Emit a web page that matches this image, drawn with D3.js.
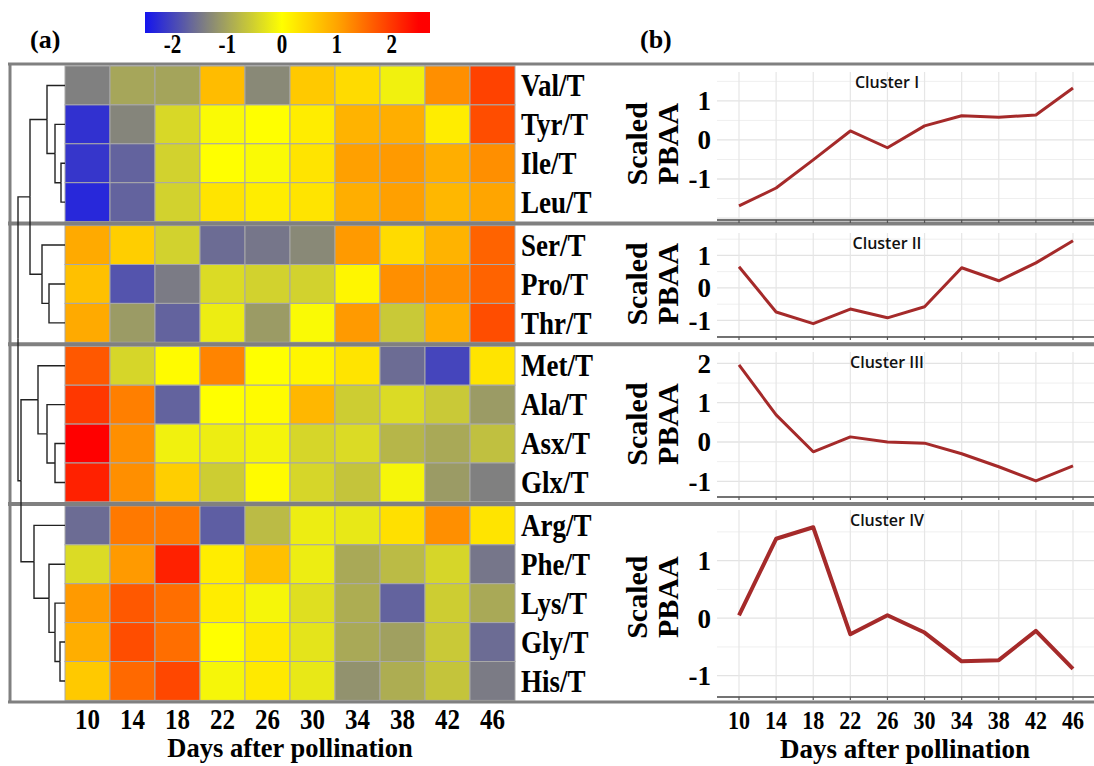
<!DOCTYPE html>
<html><head><meta charset="utf-8">
<script src="https://cdn.jsdelivr.net/npm/d3@7"></script>
<style>body{margin:0;background:#fff}</style>
</head><body>
<svg id="c" width="1094" height="766"></svg>
<script>
// ---------------- DATA ----------------
const days = [10,14,18,22,26,30,34,38,42,46];
const aminoAcids = ["Val/T","Tyr/T","Ile/T","Leu/T","Ser/T","Pro/T","Thr/T","Met/T","Ala/T","Asx/T","Glx/T","Arg/T","Phe/T","Lys/T","Gly/T","His/T"];
const clusterOf = [0,0,0,0,1,1,1,2,2,2,2,3,3,3,3,3];
const clusterNames = ["Cluster I","Cluster II","Cluster III","Cluster IV"];
const heatValues = [
  [-1.40,-0.98,-1.00, 0.75,-1.30, 0.60, 0.40,-0.15, 1.20, 1.90],
  [-2.20,-1.35,-0.43,-0.05, 0.00, 0.20, 0.85, 0.90, 0.20, 1.80],
  [-2.15,-1.70,-0.50, 0.00,-0.05, 0.30, 1.05, 1.10, 0.90, 1.20],
  [-2.30,-1.70,-0.50, 0.30, 0.20, 0.30, 0.90, 1.05, 0.80, 1.00],
  [ 0.95, 0.55,-0.50,-1.60,-1.50,-1.30, 1.10, 0.40, 0.85, 1.60],
  [ 0.70,-1.85,-1.45,-0.40,-0.50,-0.50, 0.10, 1.20, 1.20, 1.60],
  [ 0.95,-1.10,-1.70,-0.20,-1.10,-0.05, 1.10,-0.60, 0.90, 1.80],
  [ 1.70,-0.45, 0.05, 1.30, 0.00, 0.10, 0.30,-1.60,-2.00, 0.30],
  [ 2.00, 1.35,-1.70, 0.00, 0.05, 0.80,-0.55,-0.40,-0.60,-1.10],
  [ 2.50, 1.20,-0.15,-0.20,-0.12,-0.45,-0.40,-0.80,-0.95,-0.70],
  [ 2.20, 1.20, 0.55,-0.55, 0.05,-0.45,-0.65,-0.10,-1.10,-1.40],
  [-1.60, 1.40, 1.40,-1.75,-0.75,-0.20,-0.25, 0.35, 1.20, 0.30],
  [-0.40, 1.10, 2.20, 0.20, 0.70,-0.20,-0.95,-0.75,-0.45,-1.50],
  [ 1.10, 1.70, 1.50, 0.20,-0.10,-0.35,-0.90,-1.70,-0.55,-0.95],
  [ 0.90, 1.80, 1.50, 0.00, 0.25,-0.30,-0.95,-1.05,-0.60,-1.60],
  [ 0.60, 1.55, 1.85,-0.10, 0.25,-0.25,-1.20,-0.90,-0.65,-1.45]
];
const colorStops = [-2.5,-1.4,0,1,2.5];
const colorRange = ["#1414ee","#808080","#ffff00","#ffa500","#ff0000"];
const colorTicks = [-2,-1,0,1,2];
const colorbarDomain = [-2.5,2.7];
// dendrogram: merge heights
const dendrogram = {h:47, children:[
  {h:35, children:[
    {h:18, children:[{leaf:"Val/T"},{h:10, children:[{leaf:"Tyr/T"},{h:4, children:[{leaf:"Ile/T"},{leaf:"Leu/T"}]}]}]},
    {h:23, children:[{leaf:"Ser/T"},{h:16, children:[{leaf:"Pro/T"},{leaf:"Thr/T"}]}]}
  ]},
  {h:44, children:[
    {h:27, children:[{leaf:"Met/T"},{h:18, children:[{leaf:"Ala/T"},{h:10, children:[{leaf:"Asx/T"},{leaf:"Glx/T"}]}]}]},
    {h:31, children:[{leaf:"Arg/T"},{h:16, children:[{leaf:"Phe/T"},{h:10, children:[{leaf:"Lys/T"},{h:5, children:[{leaf:"Gly/T"},{leaf:"His/T"}]}]}]}]}
  ]}
]};
const clusterMeans = [
  [-1.69,-1.23,-0.51, 0.23,-0.20, 0.36, 0.62, 0.58, 0.64, 1.33],
  [ 0.65,-0.74,-1.10,-0.65,-0.92,-0.58, 0.62, 0.22, 0.77, 1.45],
  [ 1.96, 0.69,-0.25, 0.13, 0.00,-0.03,-0.30,-0.63,-0.99,-0.61],
  [ 0.05, 1.38, 1.58,-0.28, 0.05,-0.25,-0.75,-0.73,-0.22,-0.88]
];
const yDomains = [[-2.05,1.74],[-1.51,1.69],[-1.40,2.29],[-1.37,1.88]];
const yTicks = [[-1,0,1],[-1,0,1],[-1,0,1,2],[-1,0,1]];

// ---------------- LAYOUT ----------------
const svg = d3.select("#c");
const SERIF = "'Liberation Serif','Times New Roman',serif";
const gray = "#808080";
function stxt(x, y, str, size, sy, anchor, extra) {
  const t = svg.append("text")
    .attr("transform", `translate(${x},${y}) scale(1,${sy})`)
    .attr("text-anchor", anchor || "start")
    .style("font-family", SERIF).style("font-weight", "bold")
    .style("font-size", size + "px").attr("fill", "#000").text(str);
  if (extra) extra(t);
  return t;
}

const heatLeft = 65, heatTop = 66, rowH = 38.9, gap = 4;
const xHeat = d3.scaleBand().domain(days).range([heatLeft, 515]);
const yBand = d3.scaleBand().domain(aminoAcids).range([0, rowH*aminoAcids.length]);
const rowTop = name => heatTop + yBand(name) + clusterOf[aminoAcids.indexOf(name)]*gap;
const color = d3.scaleLinear().domain(colorStops).range(colorRange).clamp(true);

// heatmap cells
aminoAcids.forEach((aa, i) => {
  svg.append("g").selectAll("rect").data(heatValues[i]).join("rect")
    .attr("x", (d, j) => xHeat(days[j]))
    .attr("y", rowTop(aa))
    .attr("width", xHeat.bandwidth())
    .attr("height", yBand.bandwidth())
    .attr("fill", d => color(d))
    .attr("stroke", "#a8a8a8").attr("stroke-width", 1);
  stxt(521, rowTop(aa) + rowH/2, aa, 27, 1.2, "start", t => t.attr("dy", "0.33em"));
});

// cluster boxes
const boxes = clusterNames.map((c, k) => {
  const rows = aminoAcids.filter((a, i) => clusterOf[i] === k);
  return {top: rowTop(rows[0]), bottom: rowTop(rows[rows.length-1]) + yBand.bandwidth()};
});
for (let k = 1; k < boxes.length; k++) {
  const y = (boxes[k-1].bottom + boxes[k].top) / 2;
  svg.append("line").attr("x1", 8).attr("x2", 1094).attr("y1", y).attr("y2", y)
    .attr("stroke", gray).attr("stroke-width", 4);
}
svg.append("line").attr("x1", 8).attr("x2", 1094).attr("y1", 64).attr("y2", 64).attr("stroke", gray).attr("stroke-width", 3);
svg.append("line").attr("x1", 8).attr("x2", 1094).attr("y1", 702).attr("y2", 702).attr("stroke", gray).attr("stroke-width", 3);
svg.append("line").attr("x1", 10).attr("x2", 10).attr("y1", 63).attr("y2", 703).attr("stroke", gray).attr("stroke-width", 3);

// dendrogram
const root = d3.hierarchy(dendrogram);
const xDen = d3.scaleLinear().domain([0, 47]).range([heatLeft, 18]);
root.eachAfter(n => {
  if (!n.children) { n.hh = 0; n.yy = rowTop(n.data.leaf) + rowH/2; }
  else { n.hh = n.data.h; n.yy = d3.mean(n.children, c => c.yy); }
});
svg.append("g").selectAll("path").data(root.links()).join("path")
  .attr("d", l => `M${xDen(l.target.hh)},${l.target.yy}H${xDen(l.source.hh)}V${l.source.yy}`)
  .attr("fill", "none").attr("stroke", "#222").attr("stroke-width", 1.4);

// heatmap x labels
days.forEach(d => stxt(xHeat(d) + xHeat.bandwidth()/2, 729, String(d), 25, 1.15, "middle"));
stxt(290, 757, "Days after pollination", 26.5, 1.05, "middle");

// colorbar
const cbX = d3.scaleLinear().domain(colorbarDomain).range([145, 430]);
const grad = svg.append("defs").append("linearGradient").attr("id", "cbg")
  .attr("x1", "0%").attr("x2", "100%");
d3.range(0, 1.0001, 0.02).forEach(t => {
  const v = colorbarDomain[0] + t*(colorbarDomain[1]-colorbarDomain[0]);
  grad.append("stop").attr("offset", (t*100) + "%").attr("stop-color", color(v));
});
svg.append("rect").attr("x", cbX(colorbarDomain[0])).attr("y", 12)
  .attr("width", cbX(colorbarDomain[1]) - cbX(colorbarDomain[0])).attr("height", 21)
  .attr("fill", "url(#cbg)");
colorTicks.forEach(v => stxt(cbX(v), 53, String(v), 21, 1.25, "middle"));

stxt(30, 48, "(a)", 26, 1.0, "start");
stxt(640, 48, "(b)", 26, 1.0, "start");

// ---------------- PANEL (b) ----------------
const xLine = d3.scalePoint().domain(days).range([739, 1073]);
const plotTops = [72, 233, 352, 510], plotBottoms = [220, 337, 497, 697];
const plotLeft = 717, plotRight = 1094;
clusterMeans.forEach((vals, k) => {
  const y = d3.scaleLinear().domain(yDomains[k]).range([plotBottoms[k], plotTops[k]]);
  const g = svg.append("g");
  const lo = Math.ceil(yDomains[k][0]*2)/2, hi = Math.floor(yDomains[k][1]*2)/2;
  const gridVals = d3.range(lo, hi + 0.001, 0.5);
  g.selectAll(".hg").data(gridVals).join("line")
    .attr("x1", plotLeft).attr("x2", plotRight)
    .attr("y1", d => y(d)).attr("y2", d => y(d))
    .attr("stroke", d => Number.isInteger(d) ? "#e3e3e3" : "#efefef")
    .attr("stroke-width", d => Number.isInteger(d) ? 1.3 : 1);
  g.selectAll(".vg").data(days).join("line")
    .attr("x1", d => xLine(d)).attr("x2", d => xLine(d))
    .attr("y1", plotTops[k]).attr("y2", plotBottoms[k])
    .attr("stroke", "#e6e6e6").attr("stroke-width", 1.2);
  g.append("line").attr("x1", plotLeft).attr("x2", plotRight)
    .attr("y1", plotBottoms[k]).attr("y2", plotBottoms[k])
    .attr("stroke", "#444").attr("stroke-width", 1.3);
  g.selectAll(".tk").data(days).join("line")
    .attr("x1", d => xLine(d)).attr("x2", d => xLine(d))
    .attr("y1", plotBottoms[k]).attr("y2", plotBottoms[k] + 3)
    .attr("stroke", "#555").attr("stroke-width", 1.2);
  g.append("path").datum(vals)
    .attr("d", d3.line().x((v, i) => xLine(days[i])).y(v => y(v)))
    .attr("fill", "none").attr("stroke", "#a52a2a")
    .attr("stroke-width", k === 3 ? 4 : 3).attr("stroke-linejoin", "round");
  yTicks[k].forEach(v => stxt(711, y(v), String(v), 27, 1.05, "end", t => t.attr("dy", "0.33em")));
  svg.append("text").attr("x", 887).attr("y", plotTops[k] + 10).attr("dy", "0.35em")
    .attr("text-anchor", "middle")
    .style("font-family", "'Open Sans',sans-serif").style("font-weight", "600")
    .style("font-size", "16px").attr("fill", "#111").text(clusterNames[k]);
  const cy = (boxes[k].top + boxes[k].bottom) / 2 - (k === 3 ? 6 : 0);
  svg.append("text").attr("transform", `translate(647,${cy}) rotate(-90)`)
    .attr("text-anchor", "middle").style("font-family", SERIF).style("font-weight", "bold")
    .style("font-size", "30px").text("Scaled");
  svg.append("text").attr("transform", `translate(678,${cy}) rotate(-90)`)
    .attr("text-anchor", "middle").style("font-family", SERIF).style("font-weight", "bold")
    .style("font-size", "30px").text("PBAA");
});
days.forEach(d => stxt(xLine(d), 729, String(d), 22, 1.15, "middle"));
stxt(905, 758, "Days after pollination", 27, 1.0, "middle");
</script>
</body></html>
